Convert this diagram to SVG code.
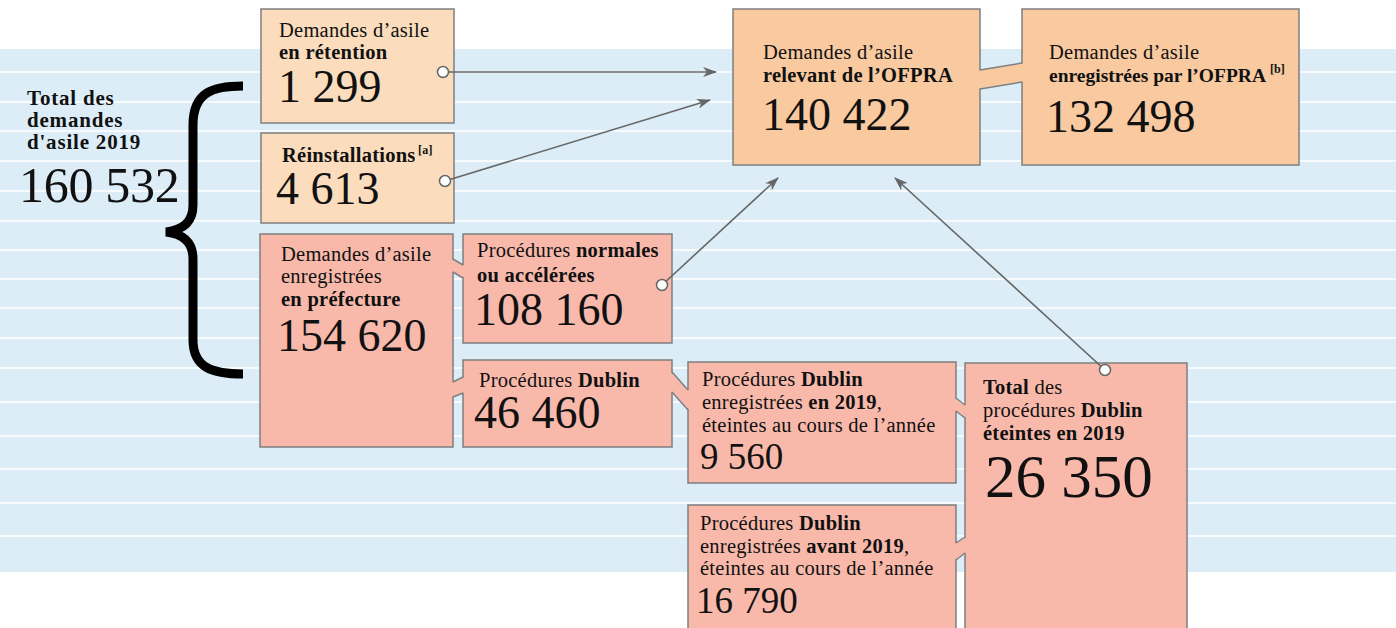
<svg xmlns="http://www.w3.org/2000/svg" width="1396" height="628" viewBox="0 0 1396 628">
<style>
.t{font-family:"Liberation Serif","Times New Roman",serif;fill:#111;font-size:20.5px;letter-spacing:0.25px}
.b{font-weight:bold}
.n{font-size:46px;letter-spacing:0}
.box{stroke:#7f7f7f;stroke-width:1.5}
.c1{fill:#fbdcbc}
.c2{fill:#f9c9a0}
.c3{fill:#f8b9ab}
.tabline{stroke:#7f7f7f;stroke-width:1.5;fill:none}
.wl{stroke:#f7fbfe;stroke-width:2}
.conn{stroke:#666;stroke-width:1.6;fill:none}
.dot{fill:#fff;stroke:#666;stroke-width:1.5}
</style>
<defs>
<marker id="arr" viewBox="0 0 14 10" refX="13" refY="5" markerWidth="14" markerHeight="10" markerUnits="userSpaceOnUse" orient="auto">
<path d="M0,0 L14,5 L0,10 L4,5 z" fill="#666"/>
</marker>
</defs>
<rect x="0" y="0" width="1396" height="628" fill="#fff"/>
<g id="background">
<rect x="0" y="49" width="1396" height="523" fill="#dcedf8"/>
<g class="wl">
<line x1="0" y1="72" x2="1396" y2="72"/>
<line x1="0" y1="102" x2="1396" y2="102"/>
<line x1="0" y1="131" x2="1396" y2="131"/>
<line x1="0" y1="161" x2="1396" y2="161"/>
<line x1="0" y1="191" x2="1396" y2="191"/>
<line x1="0" y1="221" x2="1396" y2="221"/>
<line x1="0" y1="250" x2="1396" y2="250"/>
<line x1="0" y1="279" x2="1396" y2="279"/>
<line x1="0" y1="308" x2="1396" y2="308"/>
<line x1="0" y1="338" x2="1396" y2="338"/>
<line x1="0" y1="368" x2="1396" y2="368"/>
<line x1="0" y1="402" x2="1396" y2="402"/>
<line x1="0" y1="436" x2="1396" y2="436"/>
<line x1="0" y1="469" x2="1396" y2="469"/>
<line x1="0" y1="503" x2="1396" y2="503"/>
<line x1="0" y1="536" x2="1396" y2="536"/>
</g>
</g>
<g id="total">
<text class="t b" x="27" y="105" style="font-size:21px;letter-spacing:0.8px">Total des</text>
<text class="t b" x="27" y="127" style="font-size:21px;letter-spacing:0.8px">demandes</text>
<text class="t b" x="27" y="149" style="font-size:21px;letter-spacing:0.8px">d'asile 2019</text>
<text class="t" x="19" y="202" style="font-size:50px;letter-spacing:-0.3px">160 532</text>
<path d="M243,86 C213,86 193,92 193,125 L193,205 C193,222 183,230 166,232 C183,234 193,242 193,259 L193,340 C193,368 213,374 243,374" fill="none" stroke="#000" stroke-width="9"/>
</g>
<g id="retention">
<rect class="box c1" x="261" y="9" width="193" height="114"/>
<text class="t" x="279" y="37">Demandes d’asile</text>
<text class="t b" x="279" y="59">en rétention</text>
<text class="t n" x="278" y="102">1 299</text>
</g>
<g id="reinstallations">
<rect class="box c1" x="261" y="133" width="193" height="90"/>
<text class="t b" x="282" y="162">Réinstallations</text>
<text class="t b" x="418" y="154" style="font-size:12px">[a]</text>
<text class="t n" x="276" y="204">4 613</text>
</g>
<g id="ofpra">
<rect class="box c2" x="733" y="9" width="247" height="156"/>
<text class="t" x="763" y="59">Demandes d’asile</text>
<text class="t b" x="763" y="82">relevant de l’OFPRA</text>
<text class="t n" x="762" y="130">140 422</text>
</g>
<g id="ofpra-enregistrees">
<rect class="box c2" x="1022" y="9" width="277" height="156"/>
<text class="t" x="1049" y="59">Demandes d’asile</text>
<text class="t b" x="1049" y="82" style="font-size:19.5px;letter-spacing:0">enregistrées par l’OFPRA</text>
<text class="t b" x="1270" y="73" style="font-size:12px;letter-spacing:0">[b]</text>
<text class="t n" x="1046" y="132">132 498</text>
</g>
<g id="prefecture">
<rect class="box c3" x="260" y="234" width="193" height="213"/>
<text class="t" x="281" y="261">Demandes d’asile</text>
<text class="t" x="281" y="283">enregistrées</text>
<text class="t b" x="281" y="306">en préfecture</text>
<text class="t n" x="277" y="351">154 620</text>
</g>
<g id="normales">
<rect class="box c3" x="463" y="234" width="209" height="109"/>
<text class="t" x="477" y="257">Procédures <tspan class="b">normales</tspan></text>
<text class="t b" x="477" y="282">ou accélérées</text>
<text class="t n" x="474" y="325">108 160</text>
</g>
<g id="dublin">
<rect class="box c3" x="463" y="360" width="209" height="87"/>
<text class="t" x="479" y="387">Procédures <tspan class="b">Dublin</tspan></text>
<text class="t n" x="474" y="428">46 460</text>
</g>
<g id="dublin-2019">
<rect class="box c3" x="688" y="362" width="268" height="121"/>
<text class="t" x="702" y="386">Procédures <tspan class="b">Dublin</tspan></text>
<text class="t" x="702" y="409">enregistrées <tspan class="b">en 2019</tspan>,</text>
<text class="t" x="702" y="432">éteintes au cours de l’année</text>
<text class="t" x="700" y="469" style="font-size:37px;letter-spacing:0">9 560</text>
</g>
<g id="dublin-total">
<rect class="box c3" x="965" y="363" width="222" height="275"/>
<text class="t" x="983" y="394"><tspan class="b">Total</tspan> des</text>
<text class="t" x="983" y="417">procédures <tspan class="b">Dublin</tspan></text>
<text class="t b" x="983" y="440">éteintes en 2019</text>
<text class="t" x="985" y="497" style="font-size:61px;letter-spacing:0">26 350</text>
</g>
<g id="dublin-avant">
<rect class="box c3" x="688" y="505" width="268" height="130"/>
<text class="t" x="700" y="530">Procédures <tspan class="b">Dublin</tspan></text>
<text class="t" x="700" y="553">enregistrées <tspan class="b">avant 2019</tspan>,</text>
<text class="t" x="700" y="575">éteintes au cours de l’année</text>
<text class="t" x="696" y="613" style="font-size:37px;letter-spacing:0">16 790</text>
</g>
<g id="tabs">
<polygon class="c2" points="979,70.5 1023,63.5 1023,81.5 979,88.5"/>
<path class="tabline" d="M980,70 L1022,63 M980,89 L1022,82"/>
<polygon class="c3" points="452,259.5 464,265.5 464,277.5 452,271.5"/>
<path class="tabline" d="M453,259 L463,265 M453,272 L463,278"/>
<polygon class="c3" points="452,382.5 464,377.5 464,392.5 452,396.5"/>
<path class="tabline" d="M453,382 L463,377 M453,397 L463,393"/>
<polygon class="c3" points="671,372.5 689,390.5 689,409.5 671,391.5"/>
<path class="tabline" d="M672,372 L688,390 M672,392 L688,410"/>
<polygon class="c3" points="955,398.5 966,405.5 966,417.5 955,410.5"/>
<path class="tabline" d="M956,398 L965,405 M956,411 L965,418"/>
<polygon class="c3" points="955,543.5 966,537.5 966,552.5 955,559.5"/>
<path class="tabline" d="M956,543 L965,537 M956,560 L965,553"/>
</g>
<g id="connectors">
<line class="conn" x1="443" y1="72" x2="716" y2="72" marker-end="url(#arr)"/>
<line class="conn" x1="445" y1="181" x2="710" y2="100" marker-end="url(#arr)"/>
<line class="conn" x1="662" y1="285" x2="778" y2="178" marker-end="url(#arr)"/>
<line class="conn" x1="1105" y1="370" x2="895" y2="178" marker-end="url(#arr)"/>
<circle class="dot" cx="443" cy="72" r="5.5"/>
<circle class="dot" cx="445" cy="181" r="5.5"/>
<circle class="dot" cx="662" cy="285" r="5.5"/>
<circle class="dot" cx="1105" cy="370" r="5.5"/>
</g>
</svg>
